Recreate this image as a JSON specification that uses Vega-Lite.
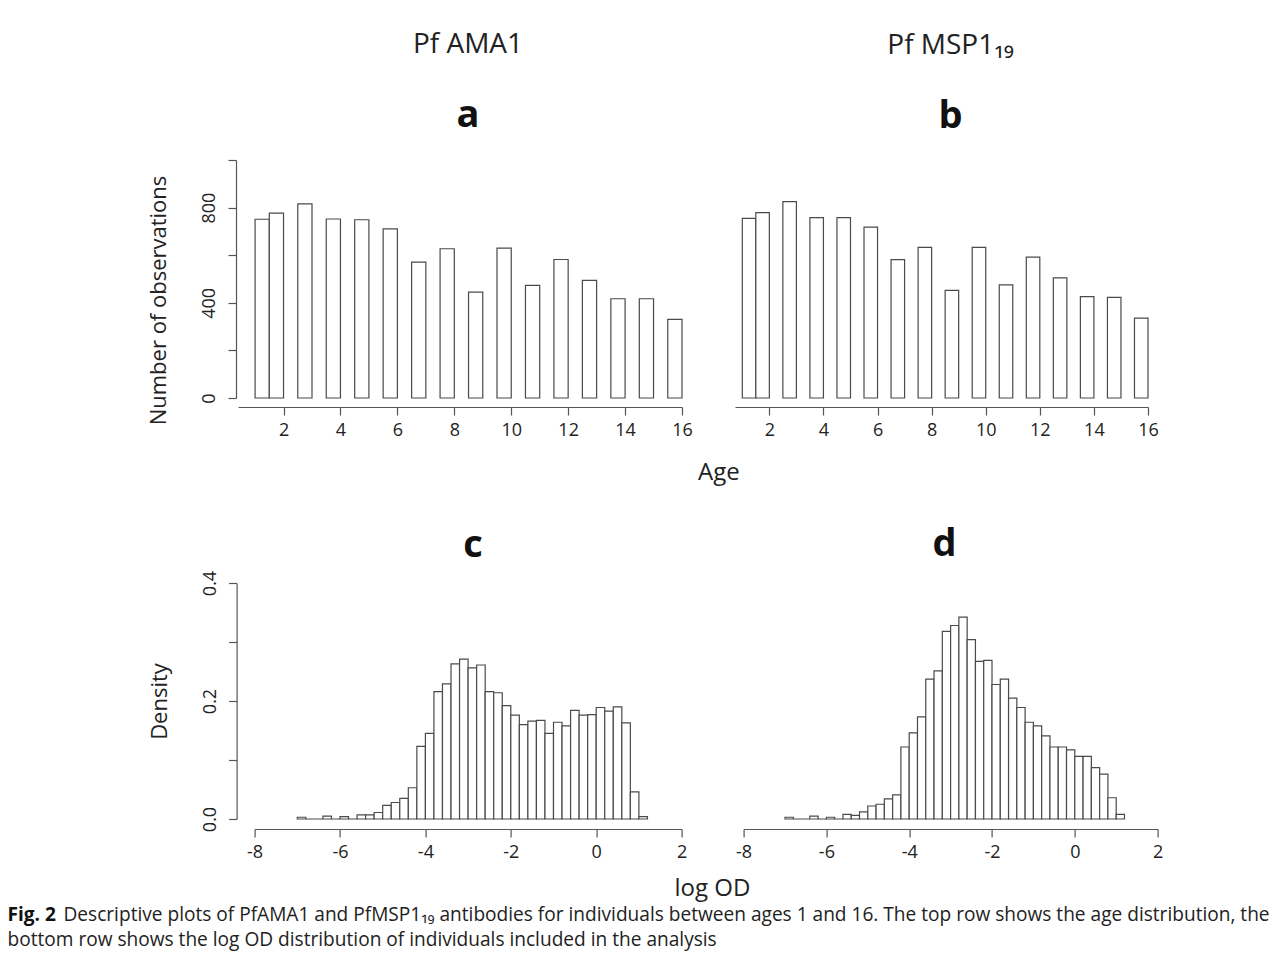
{
  "$schema": "https://vega.github.io/schema/vega-lite/v6.json",
  "background": "white",
  "padding": {"left": 7, "top": 31, "right": 2, "bottom": 5},
  "config": {
    "font": "Open Sans",
    "view": {"stroke": null},
    "axis": {"grid": false, "domainColor": "#555", "domainWidth": 1.2, "tickColor": "#555", "tickWidth": 1.2, "tickSize": 8, "labelFont": "Open Sans", "labelFontSize": 18, "labelColor": "#222", "titleFont": "Open Sans", "titleFontSize": 22, "titleFontWeight": "normal", "titleColor": "#222", "labelPadding": 6, "labelFlush": false, "labelOverlap": false, "labelBound": false},
    "axisY": {"labelPadding": 9.5}
  },
  "datasets": {
    "ama_age": [
      {"age": 1, "bin_start": 1.0, "bin_end": 1.5, "count": 751},
      {"age": 2, "bin_start": 1.5, "bin_end": 2.0, "count": 777},
      {"age": 3, "bin_start": 2.5, "bin_end": 3.0, "count": 816},
      {"age": 4, "bin_start": 3.5, "bin_end": 4.0, "count": 752},
      {"age": 5, "bin_start": 4.5, "bin_end": 5.0, "count": 749},
      {"age": 6, "bin_start": 5.5, "bin_end": 6.0, "count": 711},
      {"age": 7, "bin_start": 6.5, "bin_end": 7.0, "count": 571},
      {"age": 8, "bin_start": 7.5, "bin_end": 8.0, "count": 627},
      {"age": 9, "bin_start": 8.5, "bin_end": 9.0, "count": 445},
      {"age": 10, "bin_start": 9.5, "bin_end": 10.0, "count": 630},
      {"age": 11, "bin_start": 10.5, "bin_end": 11.0, "count": 473},
      {"age": 12, "bin_start": 11.5, "bin_end": 12.0, "count": 582},
      {"age": 13, "bin_start": 12.5, "bin_end": 13.0, "count": 494},
      {"age": 14, "bin_start": 13.5, "bin_end": 14.0, "count": 417},
      {"age": 15, "bin_start": 14.5, "bin_end": 15.0, "count": 417},
      {"age": 16, "bin_start": 15.5, "bin_end": 16.0, "count": 330}
    ],
    "msp_age": [
      {"age": 1, "bin_start": 1.0, "bin_end": 1.5, "count": 755},
      {"age": 2, "bin_start": 1.5, "bin_end": 2.0, "count": 779},
      {"age": 3, "bin_start": 2.5, "bin_end": 3.0, "count": 825},
      {"age": 4, "bin_start": 3.5, "bin_end": 4.0, "count": 758},
      {"age": 5, "bin_start": 4.5, "bin_end": 5.0, "count": 758},
      {"age": 6, "bin_start": 5.5, "bin_end": 6.0, "count": 718},
      {"age": 7, "bin_start": 6.5, "bin_end": 7.0, "count": 581},
      {"age": 8, "bin_start": 7.5, "bin_end": 8.0, "count": 633},
      {"age": 9, "bin_start": 8.5, "bin_end": 9.0, "count": 452},
      {"age": 10, "bin_start": 9.5, "bin_end": 10.0, "count": 633},
      {"age": 11, "bin_start": 10.5, "bin_end": 11.0, "count": 475},
      {"age": 12, "bin_start": 11.5, "bin_end": 12.0, "count": 592},
      {"age": 13, "bin_start": 12.5, "bin_end": 13.0, "count": 505},
      {"age": 14, "bin_start": 13.5, "bin_end": 14.0, "count": 426},
      {"age": 15, "bin_start": 14.5, "bin_end": 15.0, "count": 423},
      {"age": 16, "bin_start": 15.5, "bin_end": 16.0, "count": 336}
    ],
    "ama_od": [
      {"bin_start": -7.0, "bin_end": -6.8, "density": 0.003},
      {"bin_start": -6.8, "bin_end": -6.6, "density": 0},
      {"bin_start": -6.6, "bin_end": -6.4, "density": 0},
      {"bin_start": -6.4, "bin_end": -6.2, "density": 0.005},
      {"bin_start": -6.2, "bin_end": -6.0, "density": 0},
      {"bin_start": -6.0, "bin_end": -5.8, "density": 0.004},
      {"bin_start": -5.8, "bin_end": -5.6, "density": 0},
      {"bin_start": -5.6, "bin_end": -5.4, "density": 0.007},
      {"bin_start": -5.4, "bin_end": -5.2, "density": 0.007},
      {"bin_start": -5.2, "bin_end": -5.0, "density": 0.011},
      {"bin_start": -5.0, "bin_end": -4.8, "density": 0.023},
      {"bin_start": -4.8, "bin_end": -4.6, "density": 0.028},
      {"bin_start": -4.6, "bin_end": -4.4, "density": 0.035},
      {"bin_start": -4.4, "bin_end": -4.2, "density": 0.053},
      {"bin_start": -4.2, "bin_end": -4.0, "density": 0.123},
      {"bin_start": -4.0, "bin_end": -3.8, "density": 0.145},
      {"bin_start": -3.8, "bin_end": -3.6, "density": 0.216},
      {"bin_start": -3.6, "bin_end": -3.4, "density": 0.229},
      {"bin_start": -3.4, "bin_end": -3.2, "density": 0.263},
      {"bin_start": -3.2, "bin_end": -3.0, "density": 0.271},
      {"bin_start": -3.0, "bin_end": -2.8, "density": 0.256},
      {"bin_start": -2.8, "bin_end": -2.6, "density": 0.261},
      {"bin_start": -2.6, "bin_end": -2.4, "density": 0.216},
      {"bin_start": -2.4, "bin_end": -2.2, "density": 0.214},
      {"bin_start": -2.2, "bin_end": -2.0, "density": 0.192},
      {"bin_start": -2.0, "bin_end": -1.8, "density": 0.176},
      {"bin_start": -1.8, "bin_end": -1.6, "density": 0.160},
      {"bin_start": -1.6, "bin_end": -1.4, "density": 0.166},
      {"bin_start": -1.4, "bin_end": -1.2, "density": 0.167},
      {"bin_start": -1.2, "bin_end": -1.0, "density": 0.145},
      {"bin_start": -1.0, "bin_end": -0.8, "density": 0.164},
      {"bin_start": -0.8, "bin_end": -0.6, "density": 0.158},
      {"bin_start": -0.6, "bin_end": -0.4, "density": 0.184},
      {"bin_start": -0.4, "bin_end": -0.2, "density": 0.176},
      {"bin_start": -0.2, "bin_end": 0.0, "density": 0.177},
      {"bin_start": 0.0, "bin_end": 0.2, "density": 0.189},
      {"bin_start": 0.2, "bin_end": 0.4, "density": 0.183},
      {"bin_start": 0.4, "bin_end": 0.6, "density": 0.190},
      {"bin_start": 0.6, "bin_end": 0.8, "density": 0.163},
      {"bin_start": 0.8, "bin_end": 1.0, "density": 0.046},
      {"bin_start": 1.0, "bin_end": 1.2, "density": 0.004}
    ],
    "msp_od": [
      {"bin_start": -7.0, "bin_end": -6.8, "density": 0.003},
      {"bin_start": -6.8, "bin_end": -6.6, "density": 0},
      {"bin_start": -6.6, "bin_end": -6.4, "density": 0},
      {"bin_start": -6.4, "bin_end": -6.2, "density": 0.005},
      {"bin_start": -6.2, "bin_end": -6.0, "density": 0},
      {"bin_start": -6.0, "bin_end": -5.8, "density": 0.003},
      {"bin_start": -5.8, "bin_end": -5.6, "density": 0},
      {"bin_start": -5.6, "bin_end": -5.4, "density": 0.008},
      {"bin_start": -5.4, "bin_end": -5.2, "density": 0.006},
      {"bin_start": -5.2, "bin_end": -5.0, "density": 0.012},
      {"bin_start": -5.0, "bin_end": -4.8, "density": 0.022},
      {"bin_start": -4.8, "bin_end": -4.6, "density": 0.025},
      {"bin_start": -4.6, "bin_end": -4.4, "density": 0.034},
      {"bin_start": -4.4, "bin_end": -4.2, "density": 0.041},
      {"bin_start": -4.2, "bin_end": -4.0, "density": 0.122},
      {"bin_start": -4.0, "bin_end": -3.8, "density": 0.146},
      {"bin_start": -3.8, "bin_end": -3.6, "density": 0.173},
      {"bin_start": -3.6, "bin_end": -3.4, "density": 0.237},
      {"bin_start": -3.4, "bin_end": -3.2, "density": 0.251},
      {"bin_start": -3.2, "bin_end": -3.0, "density": 0.318},
      {"bin_start": -3.0, "bin_end": -2.8, "density": 0.328},
      {"bin_start": -2.8, "bin_end": -2.6, "density": 0.342},
      {"bin_start": -2.6, "bin_end": -2.4, "density": 0.304},
      {"bin_start": -2.4, "bin_end": -2.2, "density": 0.267},
      {"bin_start": -2.2, "bin_end": -2.0, "density": 0.269},
      {"bin_start": -2.0, "bin_end": -1.8, "density": 0.228},
      {"bin_start": -1.8, "bin_end": -1.6, "density": 0.237},
      {"bin_start": -1.6, "bin_end": -1.4, "density": 0.205},
      {"bin_start": -1.4, "bin_end": -1.2, "density": 0.189},
      {"bin_start": -1.2, "bin_end": -1.0, "density": 0.164},
      {"bin_start": -1.0, "bin_end": -0.8, "density": 0.158},
      {"bin_start": -0.8, "bin_end": -0.6, "density": 0.141},
      {"bin_start": -0.6, "bin_end": -0.4, "density": 0.122},
      {"bin_start": -0.4, "bin_end": -0.2, "density": 0.122},
      {"bin_start": -0.2, "bin_end": 0.0, "density": 0.117},
      {"bin_start": 0.0, "bin_end": 0.2, "density": 0.106},
      {"bin_start": 0.2, "bin_end": 0.4, "density": 0.106},
      {"bin_start": 0.4, "bin_end": 0.6, "density": 0.087},
      {"bin_start": 0.6, "bin_end": 0.8, "density": 0.076},
      {"bin_start": 0.8, "bin_end": 1.0, "density": 0.036},
      {"bin_start": 1.0, "bin_end": 1.2, "density": 0.008}
    ]
  },
  "title": {
    "text": "Fig. 2",
    "subtitle": "bottom row shows the log OD distribution of individuals included in the analysis",
    "orient": "bottom", "anchor": "start", "dx": -56, "offset": -19.1,
    "font": "Open Sans", "fontSize": 19.1, "fontWeight": "bold", "color": "#111",
    "subtitleFont": "Open Sans", "subtitleFontSize": 19.1, "subtitleFontWeight": "normal", "subtitleColor": "#222",
    "subtitlePadding": 5.9
  },
  "vconcat": [
    {
      "concat": [
        {
          "hconcat": [
            {
              "width": 444, "height": 238,
              "data": {"name": "ama_age"},
              "title": {"text": "Pf AMA1", "subtitle": "a", "anchor": "middle", "frame": "group", "dx": 8, "font": "Open Sans", "fontSize": 28, "fontWeight": "normal", "color": "#222", "subtitleFont": "Open Sans", "subtitleFontSize": 38, "subtitleFontWeight": "bold", "subtitleColor": "#111", "subtitlePadding": 38, "offset": 24},
              "mark": {"type": "rect", "fill": "white", "stroke": "#4a4a4a", "strokeWidth": 1.2},
              "encoding": {
                "x": {"field": "bin_start", "type": "quantitative", "scale": {"domain": [0.4, 16], "nice": false, "zero": false}, "axis": {"values": [2, 4, 6, 8, 10, 12, 14, 16], "format": "d", "title": null, "offset": 9}},
                "x2": {"field": "bin_end"},
                "y": {"field": "count", "type": "quantitative", "scale": {"domain": [0, 1000], "nice": false}, "axis": {"values": [0, 200, 400, 600, 800, 1000], "format": "d", "labelExpr": "datum.value % 400 == 0 ? datum.label : ''", "labelAngle": -90, "offset": 2, "title": "Number of observations", "titlePadding": 30, "titleY": 140}},
                "y2": {"datum": 0}
              }
            },
            {
              "width": 413, "height": 238,
              "data": {"name": "msp_age"},
              "title": {"text": "Pf MSP1\u2081\u2089", "subtitle": "b", "anchor": "middle", "frame": "group", "dx": 9, "font": "Open Sans", "fontSize": 28, "fontWeight": "normal", "color": "#222", "subtitleFont": "Open Sans", "subtitleFontSize": 38, "subtitleFontWeight": "bold", "subtitleColor": "#111", "subtitlePadding": 38, "offset": 24},
              "mark": {"type": "rect", "fill": "white", "stroke": "#4a4a4a", "strokeWidth": 1.2},
              "encoding": {
                "x": {"field": "bin_start", "type": "quantitative", "scale": {"domain": [0.73, 16], "nice": false, "zero": false}, "axis": {"values": [2, 4, 6, 8, 10, 12, 14, 16], "format": "d", "title": null, "offset": 9}},
                "x2": {"field": "bin_end"},
                "y": {"field": "count", "type": "quantitative", "scale": {"domain": [0, 1000], "nice": false}, "axis": null},
                "y2": {"datum": 0}
              }
            }
          ],
          "spacing": 53,
          "bounds": "flush",
          "title": {"text": "Age", "orient": "bottom", "anchor": "middle", "dx": 66, "font": "Open Sans", "fontSize": 24, "fontWeight": "normal", "color": "#222", "offset": 22}
        },
        {
          "hconcat": [
            {
              "width": 1, "height": 236,
              "data": {"values": []},
              "mark": {"type": "point", "opacity": 0},
              "encoding": {}
            },
            {
              "hconcat": [
                {
                  "width": 427, "height": 236,
                  "data": {"name": "ama_od"},
                  "title": {"text": "c", "anchor": "middle", "frame": "group", "dx": 5, "font": "Open Sans", "fontSize": 38, "fontWeight": "bold", "color": "#111", "offset": 5},
                  "mark": {"type": "rect", "fill": "white", "stroke": "#4a4a4a", "strokeWidth": 1.2},
                  "encoding": {
                    "x": {"field": "bin_start", "type": "quantitative", "scale": {"domain": [-8, 2], "nice": false, "zero": false}, "axis": {"values": [-8, -6, -4, -2, 0, 2], "labelExpr": "'' + datum.value", "title": null, "offset": 10}},
                    "x2": {"field": "bin_end"},
                    "y": {"field": "density", "type": "quantitative", "scale": {"domain": [0, 0.4], "nice": false}, "axis": {"values": [0, 0.1, 0.2, 0.3, 0.4], "labelExpr": "round(datum.value * 10) % 2 == 0 ? format(datum.value, '.1f') : ''", "labelAngle": -90, "offset": 18, "title": "Density", "titlePadding": 30}},
                    "y2": {"datum": 0}
                  }
                },
                {
                  "width": 414, "height": 236,
                  "data": {"name": "msp_od"},
                  "title": {"text": "d", "anchor": "middle", "frame": "group", "dx": -6, "font": "Open Sans", "fontSize": 38, "fontWeight": "bold", "color": "#111", "offset": 19},
                  "mark": {"type": "rect", "fill": "white", "stroke": "#4a4a4a", "strokeWidth": 1.2},
                  "encoding": {
                    "x": {"field": "bin_start", "type": "quantitative", "scale": {"domain": [-8, 2], "nice": false, "zero": false}, "axis": {"values": [-8, -6, -4, -2, 0, 2], "labelExpr": "'' + datum.value", "title": null, "offset": 10}},
                    "x2": {"field": "bin_end"},
                    "y": {"field": "density", "type": "quantitative", "scale": {"domain": [0, 0.4], "nice": false}, "axis": null},
                    "y2": {"datum": 0}
                  }
                }
              ],
              "spacing": 62,
              "bounds": "flush"
            }
          ],
          "spacing": 15.6,
          "bounds": "flush",
          "title": {"text": "log OD", "orient": "bottom", "anchor": "middle", "dx": 57, "font": "Open Sans", "fontSize": 24, "fontWeight": "normal", "color": "#222", "offset": 16}
        }
      ],
      "columns": 1,
      "align": "none",
      "spacing": 41,
      "title": {
        "text": "Descriptive plots of PfAMA1 and PfMSP1\u2081\u2089 antibodies for individuals between ages 1 and 16. The top row shows the age distribution, the",
        "orient": "bottom", "anchor": "start", "dx": -84, "offset": 5,
        "font": "Open Sans", "fontSize": 19.1, "fontWeight": "normal", "color": "#222"
      }
    }
  ]
}
